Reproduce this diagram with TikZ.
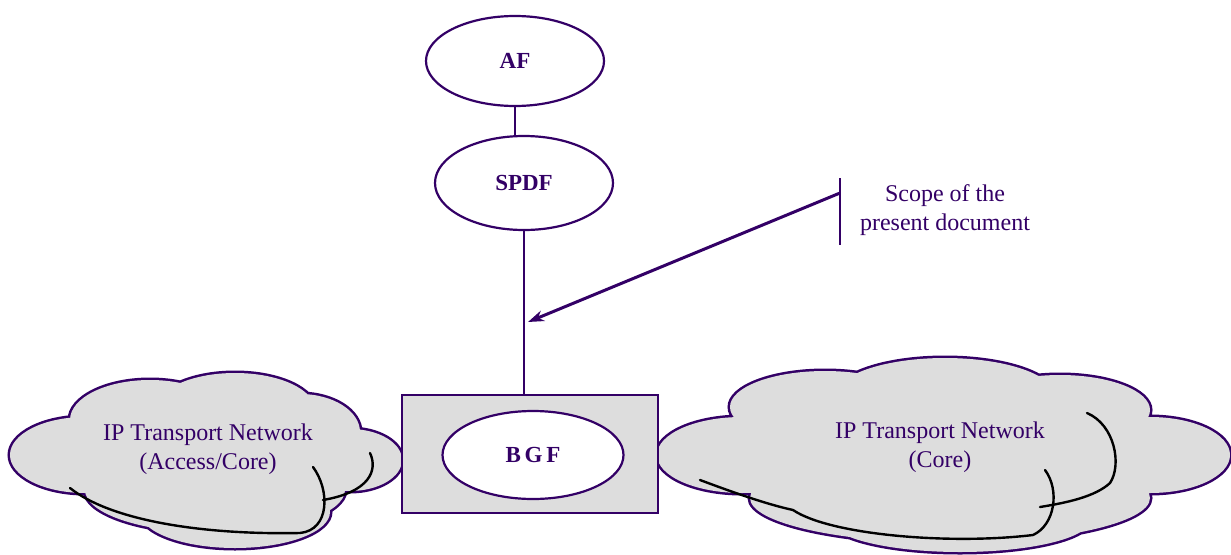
\documentclass[tikz,border=0pt]{standalone}
\usepackage{fontspec}
\setmainfont{Liberation Serif}
\usetikzlibrary{arrows.meta,shapes.geometric}
\definecolor{ink}{RGB}{51,0,102}
\definecolor{cloudgray}{RGB}{221,221,221}
\tikzset{
  fn/.style={ellipse, draw=ink, line width=2.2pt, fill=white, text=ink,
    font=\fontsize{23}{27}\selectfont\bfseries, inner sep=0pt},
  link/.style={draw=ink, line width=2pt},
  lbl/.style={text=ink, font=\fontsize{24}{29}\selectfont, align=center},
  shadowarc/.style={draw=black, line width=2.4pt, line cap=round},
  cloudline/.style={draw=ink, line width=5pt},
  cloudfill/.style={fill=cloudgray}
}
\newcommand{\leftcloud}{%
  (85,455) ellipse [x radius=75pt, y radius=38pt]
  (150,420) ellipse [x radius=80pt, y radius=40pt]
  (235,410) ellipse [x radius=80pt, y radius=37pt]
  (300,432) ellipse [x radius=60pt, y radius=38pt]
  (350,460) ellipse [x radius=52pt, y radius=31pt]
  (215,490) ellipse [x radius=130pt, y radius=43pt]
  (235,512) ellipse [x radius=95pt, y radius=36pt]
  (210,460) ellipse [x radius=140pt, y radius=50pt]}
\newcommand{\rightcloud}{%
  (742,455) ellipse [x radius=85pt, y radius=38pt]
  (825,407) ellipse [x radius=95pt, y radius=36pt]
  (945,396) ellipse [x radius=110pt, y radius=38pt]
  (1060,410) ellipse [x radius=90pt, y radius=35pt]
  (1150,455) ellipse [x radius=80pt, y radius=38pt]
  (950,498) ellipse [x radius=200pt, y radius=45pt]
  (960,520) ellipse [x radius=130pt, y radius=32pt]
  (940,455) ellipse [x radius=230pt, y radius=60pt]}
\begin{document}
\begin{tikzpicture}[x=1pt,y=-1pt]
\useasboundingbox (0,0) rectangle (1231,554);

% clouds
\path[cloudline] \leftcloud;
\path[cloudfill] \leftcloud;
\path[cloudline] \rightcloud;
\path[cloudfill] \rightcloud;

% shadow arcs, left cloud
\draw[shadowarc] (70,488) .. controls (110,520) and (200,535) .. (300,533)
  .. controls (330,530) and (330,490) .. (313,467);
\draw[shadowarc] (370,453) .. controls (378,470) and (370,492) .. (323,500);
% shadow arcs, right cloud
\draw[shadowarc] (700,480) .. controls (740,495) and (770,505) .. (793,510)
  .. controls (830,535) and (950,545) .. (1033,535)
  .. controls (1055,525) and (1060,490) .. (1045,470);
\draw[shadowarc] (1087,413) .. controls (1115,425) and (1122,465) .. (1110,483)
  .. controls (1095,497) and (1065,503) .. (1040,507);

% BGF box
\node[draw=ink, line width=2pt, fill=cloudgray, minimum width=256pt,
  minimum height=118pt, inner sep=0pt] (box) at (530,454) {};

% function ellipses
\node[fn, minimum width=178pt, minimum height=90pt] (af) at (515,61) {AF};
\node[fn, minimum width=178pt, minimum height=94pt] (spdf) at (524,183) {SPDF};
\node[fn, minimum width=181pt, minimum height=88pt] (bgf) at (533,455) {B\,G\,F};

% connectors
\draw[link] (af.south) -- (af.south |- spdf.north);
\draw[link] (spdf.south) -- (spdf.south |- box.north);

% scope marker
\coordinate (barTop) at (840,178);
\coordinate (barBot) at (840,245);
\coordinate (barMid) at (840,193);
\coordinate (tip) at (528,322);
\draw[link] (barTop) -- (barBot);
\draw[draw=ink, line width=3pt, -{Stealth[length=16pt,width=11pt]}] (barMid) -- (tip);
\node[lbl] (scope) at (945,210) {Scope of the\\present document};

% cloud labels
\node[lbl] (lefttxt) at (208,449) {IP Transport Network\\(Access/Core)};
\node[lbl] (righttxt) at (940,447) {IP Transport Network\\(Core)};
\end{tikzpicture}
\end{document}
